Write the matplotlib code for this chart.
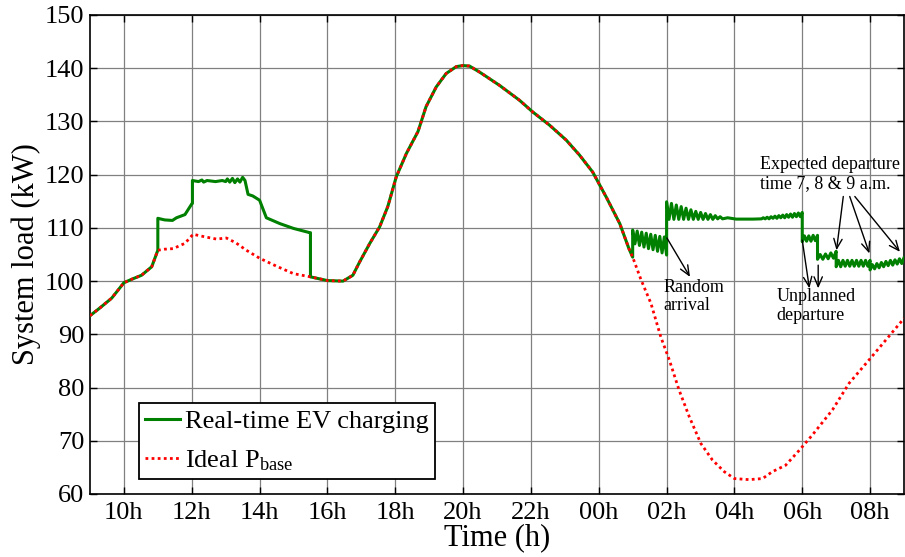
import numpy as np
import matplotlib
matplotlib.use("Agg")
import matplotlib.pyplot as plt

plt.rcParams['font.family'] = ['Liberation Serif', 'DejaVu Serif']
plt.rcParams['mathtext.fontset'] = 'custom'
plt.rcParams['mathtext.rm'] = 'Liberation Serif'
plt.rcParams['mathtext.it'] = 'Liberation Serif:italic'

# ---------------- data ----------------
base_t = [9.0, 9.3, 9.64, 10.0, 10.25, 10.52, 10.82, 11.0, 11.2, 11.45, 11.8, 12.04, 12.4,
          12.73, 13.02, 13.3, 13.61, 14.0, 14.5, 15.0, 15.5, 16.0, 16.46, 16.75, 16.95,
          17.25, 17.54, 17.78, 18.03, 18.33, 18.67, 18.91, 19.21, 19.5, 19.8, 20.0, 20.19,
          20.48, 21.07, 21.66, 22.05, 22.55, 23.04, 23.43, 23.82, 24.22, 24.62, 24.89, 25.0,
          25.25, 25.54, 25.83, 26.08, 26.37, 26.67, 27.01, 27.35, 27.7, 28.0, 28.43, 28.83,
          29.12, 29.51, 29.91, 30.3, 30.89, 31.38, 31.97, 32.46, 33.0]
base_v = [93.5, 95.0, 96.8, 99.7, 100.4, 101.1, 102.7, 105.8, 106.0, 106.1, 107.1, 108.8, 108.3,
          107.9, 108.1, 107.2, 105.8, 104.3, 102.8, 101.4, 100.8, 100.1, 100.0, 101.1, 103.6,
          107.1, 110.2, 114.0, 119.6, 124.0, 128.1, 132.8, 136.5, 139.0, 140.3, 140.5, 140.4,
          139.3, 136.8, 134.0, 131.8, 129.3, 126.5, 123.7, 120.5, 115.8, 110.8, 106.1, 104.5,
          100.2, 95.8, 89.5, 85.2, 79.5, 74.5, 69.5, 66.4, 64.2, 62.9, 62.7, 62.9,
          64.2, 65.4, 68.2, 71.1, 75.8, 80.8, 85.2, 88.9, 93.0]

# real-time EV charging: daytime deviation from base (11h - 15.5h)
ev_day_t = [11.0, 11.0, 11.2, 11.43, 11.55, 11.8, 12.0, 12.02, 12.02, 12.2, 12.3, 12.35, 12.45,
            12.7, 12.9, 13.0, 13.05, 13.12, 13.2, 13.27, 13.35, 13.42, 13.5, 13.57, 13.66,
            13.8, 14.0, 14.2, 14.6, 15.0, 15.48, 15.5]
ev_day_v = [105.8, 111.8, 111.5, 111.4, 111.9, 112.5, 114.5, 114.6, 118.9, 118.7, 119.0, 118.6,
            118.9, 118.7, 118.9, 118.7, 119.2, 118.6, 119.3, 118.5, 119.2, 118.6, 119.5, 118.9,
            116.3, 116.0, 115.2, 111.9, 110.8, 109.9, 109.1, 109.1]

# real-time EV charging: night segments (start h, end h, values)
ev_seg_bounds = [(25.0, 26.0), (26.0, 27.65), (27.8, 28.8), (28.85, 30.0),
                 (30.0, 30.45), (30.45, 31.0), (31.0, 32.0), (32.0, 33.0)]
ev_seg_A = [109.6, 107.0, 109.4, 106.7, 109.2, 106.4, 109.0, 106.1, 108.8, 105.9, 108.6, 105.6,
            108.4, 105.3, 108.3, 104.9]
ev_seg_B = [114.9, 111.6, 114.6, 111.6, 114.3, 111.6, 114.0, 111.6, 113.7, 111.6, 113.4, 111.6,
            113.1, 111.6, 112.9, 111.6, 112.7, 111.6, 112.5, 111.6, 112.3, 111.7, 112.1, 111.7]
ev_seg_C = [111.9, 111.65, 111.65, 111.65, 111.7]
ev_seg_D = [111.9, 111.7, 112.0, 111.7, 112.1, 111.8, 112.2, 111.8, 112.3, 111.9, 112.4, 111.9,
            112.5, 112.0, 112.6, 112.0, 112.7, 112.1, 112.8, 112.1, 112.9]
ev_seg_E = [107.4, 108.5, 107.5, 108.5, 107.5, 108.6, 107.6, 108.6]
ev_seg_F = [104.1, 105.0, 104.1, 105.1, 104.2, 105.3, 104.3, 105.6]
ev_seg_G = [102.7, 103.9, 102.7, 103.9, 102.8, 103.9, 102.8, 103.9, 102.8, 103.9, 102.8, 103.9,
            102.8, 103.9, 102.8, 103.9]
ev_seg_H = [102.1, 103.1, 102.3, 103.3, 102.5, 103.5, 102.7, 103.7, 102.9, 103.9, 103.0, 104.0,
            103.2, 104.2, 103.3, 104.4]
ev_segs = [ev_seg_A, ev_seg_B, ev_seg_C, ev_seg_D, ev_seg_E, ev_seg_F, ev_seg_G, ev_seg_H]

x_ticks = [10, 12, 14, 16, 18, 20, 22, 24, 26, 28, 30, 32]
x_ticklabels = ['10h', '12h', '14h', '16h', '18h', '20h', '22h', '00h', '02h', '04h', '06h', '08h']
y_ticks = [60, 70, 80, 90, 100, 110, 120, 130, 140, 150]

# ---------------- build EV series ----------------
bt = np.array(base_t)
bv = np.array(base_v)
m1 = bt < 11.0
m2 = (bt >= 15.5) & (bt <= 25.0)
ev_t = list(bt[m1]) + ev_day_t + list(bt[m2])
ev_v = list(bv[m1]) + ev_day_v + list(bv[m2])
for (a, b), vals in zip(ev_seg_bounds, ev_segs):
    ev_t += list(np.linspace(a, b, len(vals)))
    ev_v += vals

# ---------------- plot ----------------
fig = plt.figure(figsize=(9.05, 5.57), dpi=100)
ax = fig.add_axes([90/905, 63/557, 814/905, 479/557])

ax.plot(ev_t, ev_v, color='#008000', lw=2.2, label='Real-time EV charging', zorder=3)
ax.plot(base_t, base_v, color='red', lw=2.0, linestyle=(0, (1, 1.2)),
        label=r'Ideal P$_{\mathrm{base}}$', zorder=4)

ax.set_xlim(9, 33)
ax.set_ylim(60, 150)
ax.set_xticks(x_ticks)
ax.set_xticklabels(x_ticklabels)
ax.set_yticks(y_ticks)
ax.grid(True, color='0.5', lw=0.9, zorder=0)
ax.tick_params(direction='in', length=5, width=1, labelsize=19, top=True, right=True)
ax.tick_params(axis='x', pad=6)
ax.tick_params(axis='y', pad=4)
for s in ax.spines.values():
    s.set_linewidth(1.2)
ax.set_xlabel('Time (h)', fontsize=22, labelpad=-1)
ax.set_ylabel('System load (kW)', fontsize=22, labelpad=3)

leg = ax.legend(loc='lower left', bbox_to_anchor=(0.060, 0.031), borderaxespad=0,
                fontsize=19, fancybox=False, framealpha=1, edgecolor='black',
                handlelength=1.3, handletextpad=0.2, borderpad=0.25, labelspacing=0.55)
leg.get_frame().set_linewidth(1.3)

arrow = dict(arrowstyle='->,head_length=0.7,head_width=0.3', color='black', lw=1.0,
             shrinkA=0, shrinkB=0)
tsize = 13
ax.text(25.92, 97.1, 'Random\narrival', fontsize=tsize, ha='left', va='center', linespacing=1.1)
ax.annotate('', xy=(26.69, 100.8), xytext=(26.01, 108.1), arrowprops=arrow)

ax.text(29.24, 95.3, 'Unplanned\ndeparture', fontsize=tsize, ha='left', va='center', linespacing=1.1)
ax.annotate('', xy=(30.21, 98.65), xytext=(30.0, 107.7), arrowprops=arrow)
ax.annotate('', xy=(30.47, 98.65), xytext=(30.47, 103.0), arrowprops=arrow)

ax.text(28.75, 120.1, 'Expected departure\ntime 7, 8 & 9 a.m.', fontsize=tsize, ha='left',
        va='center', linespacing=1.1)
ax.annotate('', xy=(31.01, 105.8), xytext=(31.21, 115.9), arrowprops=arrow)
ax.annotate('', xy=(31.98, 105.2), xytext=(31.40, 115.9), arrowprops=arrow)
ax.annotate('', xy=(32.88, 105.5), xytext=(31.55, 115.9), arrowprops=arrow)

fig.savefig('out.png', dpi=100)
